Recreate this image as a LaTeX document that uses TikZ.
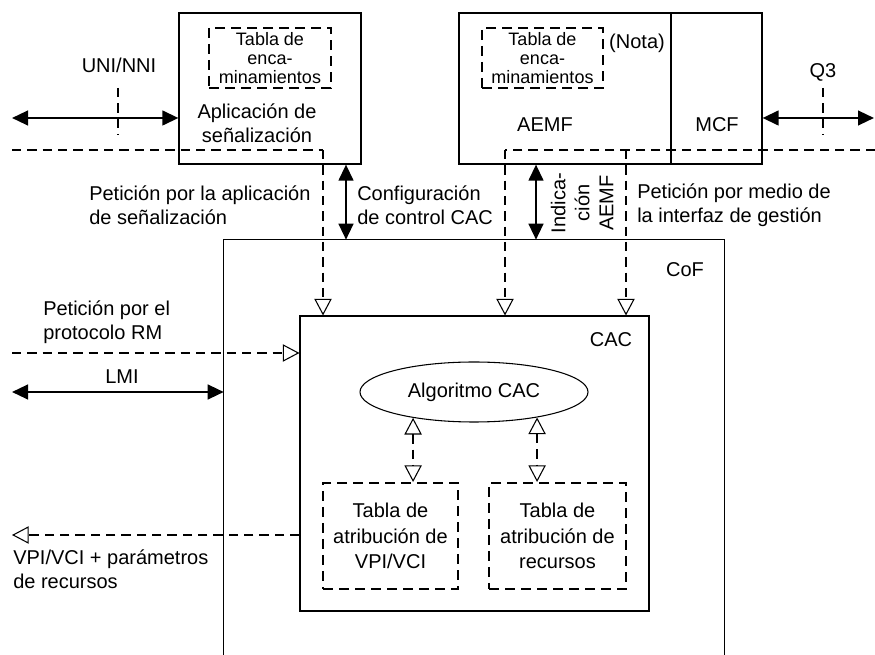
\documentclass[tikz,border=0pt]{standalone}
\usepackage{fontspec}
\setmainfont{Liberation Sans}
\usetikzlibrary{arrows.meta,fit,shapes.geometric,calc}
\begin{document}
\begin{tikzpicture}[x=0.75pt,y=-0.75pt,
  txt/.style={font=\fontsize{15}{18}\selectfont, inner sep=0pt},
  smalltxt/.style={font=\fontsize{13.5}{14.5}\selectfont, inner sep=0pt, align=center},
  box/.style={draw, line width=0.9pt, inner sep=0pt},
  region/.style={inner sep=0pt},
  dbox/.style={draw, line width=1.5pt, dash pattern=on 7.5pt off 4.5pt, inner sep=0pt},
  dline/.style={line width=1.4pt, dash pattern=on 7pt off 4.5pt},
  dbl/.style={line width=1.7pt, {Triangle[length=12pt,width=11pt]}-{Triangle[length=12pt,width=11pt]}},
  openarr/.style={dline, -{Triangle[open,length=12.5pt,width=13pt,line width=0.8pt]}},
  openboth/.style={dline, {Triangle[open,length=12.5pt,width=13pt,line width=0.8pt]}-{Triangle[open,length=12.5pt,width=13pt,line width=0.8pt]}},
]
\useasboundingbox (0,0) rectangle (875,655);

% upper boxes
\node[box, fit={(179,13) (361,164)}] (sig) {};
\node[dbox, fit={(209,28) (331,88)}] (rt1) {};
\node[smalltxt] (rt1t) at (rt1.center) {Tabla de\\enca-\\minamientos};
\node[txt, align=center] (sigl) at (257,123) {Aplicación de\\señalización};

\node[box, fit={(459,13) (671,164)}] (aemf) {};
\node[box, fit={(671,13) (762,164)}] (mcf) {};
\node[dbox, fit={(482,28) (603,88)}] (rt2) {};
\node[smalltxt] (rt2t) at (rt2.center) {Tabla de\\enca-\\minamientos};
\node[txt] (nota) at (637,43) {(Nota)};
\node[txt] (aemfl) at (545,125) {AEMF};
\node[txt] (mcfl) at (717,125) {MCF};

% CoF and CAC
\node[region, fit={(224,240) (724,655)}] (cof) {};
\draw[line width=0.8pt] (cof.south west) -- (cof.north west) -- (cof.north east) -- (cof.south east);
\node[txt] (cofl) at (685,270) {CoF};

\node[box, line width=0.8pt, fit={(300,316) (649,611)}] (cac) {};
\node[txt] (cacl) at (611,340) {CAC};

\node[draw, ellipse, line width=0.8pt, minimum width=171pt, minimum height=45pt, inner sep=0pt, txt] (alg) at (474,392) {Algoritmo CAC};

\node[dbox, fit={(323,483) (458,589)}] (t1) {};
\node[txt, align=center, font=\fontsize{15}{19}\selectfont] (t1t) at (t1.center) {Tabla de\\atribución de\\VPI/VCI};
\node[dbox, fit={(489,483) (626,589)}] (t2) {};
\node[txt, align=center, font=\fontsize{15}{19}\selectfont] (t2t) at (t2.center) {Tabla de\\atribución de\\recursos};

% labels
\node[txt] (uni) at (119,65) {UNI/NNI};
\node[txt] (q3) at (823,72) {Q3};
\node[txt, align=left, anchor=west] (pet1) at (89,205) {Petición por la aplicación\\de señalización};
\node[txt, align=left, anchor=west] (conf) at (357,205) {Configuración\\de control CAC};
\node[txt, align=center, rotate=90, font=\fontsize{15}{18}\selectfont] (ind) at (582,203) {Indica-\\ción\\AEMF};
\node[txt, align=left, anchor=west] (pet2) at (637,205) {Petición por medio de\\la interfaz de gestión};
\node[txt, align=left, anchor=west] (pet3) at (43,322) {Petición por el\\protocolo RM};
\node[txt] (lmi) at (122,377) {LMI};
\node[txt, align=left, anchor=west] (vpi) at (13,569) {VPI/VCI + parámetros\\de recursos};

% connectors: top-left
\coordinate (uniL) at (12,118);
\draw[dbl] (uniL) -- (uniL -| sig.west);
\coordinate (uniT) at (118,88);
\coordinate (uniB) at (118,135);
\draw[dline] (uniT) -- (uniB);

\coordinate (s0) at (12,150);
\coordinate (s1) at (323,150);
\draw[dline] (s0) -- (s1);
\draw[openarr] (s1) -- (s1 |- cac.north);

\coordinate (ca) at (346,164);
\draw[dbl] (ca |- sig.south) -- (ca |- cof.north);

% connectors: top-right
\coordinate (q3R) at (874,118);
\draw[dbl] (q3R -| mcf.east) -- (q3R);
\coordinate (q3T) at (823,88);
\coordinate (q3B) at (823,135);
\draw[dline] (q3T) -- (q3B);

\coordinate (m0) at (875,150);
\coordinate (m1) at (505,150);
\coordinate (m2) at (626,150);
\draw[dline] (m0) -- (m1);
\draw[openarr] (m1) -- (m1 |- cac.north);
\draw[openarr] (m2) -- (m2 |- cac.north);

\coordinate (ae) at (536,164);
\draw[dbl] (ae |- aemf.south) -- (ae |- cof.north);

% connectors: left
\coordinate (rmL) at (12,353);
\draw[openarr] (rmL) -- (rmL -| cac.west);
\coordinate (lmiL) at (12,392);
\draw[dbl] (lmiL) -- (lmiL -| cof.west);
\coordinate (vpiL) at (12,535);
\draw[openarr] (vpiL -| cac.west) -- (vpiL);

% inside CAC
\draw[openboth] (alg.-157.5) -- (alg.-157.5 |- t1.north);
\draw[openboth] (alg.-22.5) -- (alg.-22.5 |- t2.north);
\end{tikzpicture}
\end{document}
